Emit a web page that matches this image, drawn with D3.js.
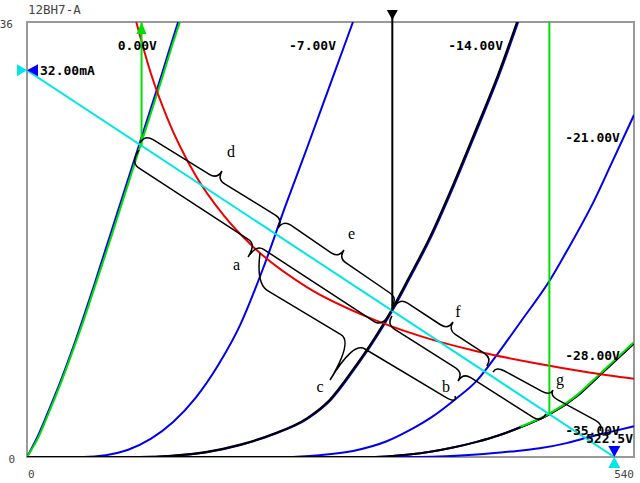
<!DOCTYPE html>
<html>
<head>
<meta charset="utf-8">
<script src="https://cdn.jsdelivr.net/npm/d3@7"></script>
<style>
  body { margin: 0; background: #fff; }
</style>
</head>
<body>
<div id="graphe"></div>
<script>
// Tube et axes
const titre = "12BH7-A";
const xDomaine = [0, 540];
const yDomaine = [0, 36];
const xTicks = ["0", "540"];
const yTicks = ["36", "0"];

// Courbes de plaque (V plaque, mA)
const v0 = [0, 10, 20, 30, 40, 50, 60, 70, 80, 90, 100, 110, 120, 130, 134.5];
const i0 = [0, 1.8, 4.0, 6.3, 8.8, 11.5, 14.3, 17.2, 20.1, 23.0, 25.9, 28.8, 31.7, 34.7, 36];
const v7 = [0, 50, 70, 90, 110, 130, 150, 170, 190, 210, 230, 250, 270, 290];
const i7 = [0, 0, 0.15, 0.6, 1.5, 2.9, 4.9, 7.6, 11.0, 15.6, 20.8, 25.8, 30.9, 36];
const v14 = [0, 100, 130, 160, 190, 220, 250, 270, 290, 310, 325, 340, 360, 380, 400, 420, 437];
const i14 = [0, 0, 0.1, 0.4, 1.0, 1.9, 3.2, 4.7, 7.1, 9.8, 12.1, 14.7, 18.3, 22.5, 27.0, 31.6, 36];
const v21 = [0, 230, 260, 290, 320, 340, 360, 380, 400, 420, 440, 465, 480, 505, 520, 540];
const i21 = [0, 0, 0.15, 0.5, 1.3, 2.2, 3.3, 4.7, 6.3, 8.7, 11.3, 14.6, 17.0, 21.3, 24.3, 28.3];
const v28 = [0, 300, 320, 340, 360, 380, 400, 420, 440, 465, 490, 512, 540];
const i28 = [0, 0, 0.05, 0.2, 0.45, 0.8, 1.25, 1.8, 2.5, 3.54, 5.1, 7.0, 9.4];
const v35 = [0, 350, 400, 430, 456, 480, 500, 520, 540];
const i35 = [0, 0, 0.2, 0.45, 0.72, 1.15, 1.65, 2.1, 2.55];

// Courbes en surbrillance (vert = 0V, noir = -14V, vert = -28V)
const vVert0 = [0, 10, 20, 30, 40, 50, 60, 70, 80, 90, 100, 110, 120, 130, 136];
const iVert0 = [0, 1.6, 3.8, 6.1, 8.6, 11.2, 14.0, 16.8, 19.7, 22.6, 25.5, 28.4, 31.3, 34.3, 36];
const vNoir14 = [0, 99, 129, 159, 189, 219, 249, 269, 289, 309, 324, 339, 359, 379, 399, 419, 436];
const iNoir14 = [0, 0, 0.1, 0.4, 1.0, 1.9, 3.2, 4.7, 7.1, 9.8, 12.1, 14.7, 18.3, 22.5, 27.0, 31.6, 36];
const vVert28 = [439, 464, 489, 511, 540];
const iVert28 = [2.5, 3.54, 5.1, 7.0, 9.5];

// Etiquettes des grilles et leur position (fin du texte, ligne de base)
const grilles = ["0.00V", "-7.00V", "-14.00V", "-21.00V", "-28.00V", "-35.00V"];
const grilleV = [115.6, 274.9, 423.5, 527.5, 527.5, 527.5];
const grilleI = [33.7, 33.7, 33.7, 26.1, 8.0, 1.8];

// Dissipation max 3.5W
const dissV = [97.2, 110, 125, 150, 175, 200, 250, 300, 350, 400, 450, 500, 540];
const dissI = [36.0, 31.8, 28.0, 23.3, 20.0, 17.5, 14.0, 11.7, 10.0, 8.75, 7.8, 7.0, 6.48];

// Droite de charge
const chargeV = [0, 522.5];
const chargeI = [32, 0];
const chargeTextes = ["32.00mA", "522.5V"];

// Point de repos (noir) et excursions (vert)
const marqueV = [101.9, 325, 464.7];
const marqueI = [25.76, 12.09, 3.54];

// Accolades : debut, fin, pointe, texte (V, mA) ; corps donne seulement pour c
const accNoms = ["d", "e", "f", "g", "a", "b", "c"];
const accDebut = [[100.5, 26.0], [223.3, 18.95], [327.4, 12.5], [414.6, 7.03], [99.6, 25.4], [324.7, 11.67], [207.3, 16.88]];
const accFin = [[223.3, 18.95], [324.7, 12.5], [409.2, 7.53], [509.7, 2.23], [322.9, 11.83], [461.7, 3.56], [380.8, 5.05]];
const accPointe = [[173.5, 23.67], [282.0, 17.13], [379.0, 11.17], [467.9, 5.54], [196.6, 16.55], [383.4, 6.29], [269.6, 6.37]];
const accTexte = [[181.5, 24.8], [288.7, 18.02], [383.4, 11.61], [474.1, 6.0], [186.4, 15.48], [372.8, 5.4], [260.7, 5.4]];
const accCorps = [null, null, null, null, null, null, [[214.4, 13.74], [371.9, 4.97]]];

const svg = d3.select("#graphe")
    .append("svg")
    .attr("width", 640)
    .attr("height", 483);

const x = d3.scaleLinear().domain(xDomaine).range([27, 634]);
const y = d3.scaleLinear().domain(yDomaine).range([457, 22]);

svg.append("defs").append("clipPath").attr("id", "zone")
    .append("rect").attr("x", 27).attr("y", 22).attr("width", 607).attr("height", 435);

const mono = "'DejaVu Sans Mono', monospace";

// Cadre
svg.append("rect")
    .attr("x", x(0)).attr("y", y(36)).attr("width", x(540) - x(0)).attr("height", y(0) - y(36))
    .attr("fill", "none").attr("stroke", "#999").attr("stroke-width", 2);

// Titre et graduations
svg.append("text").attr("x", 28).attr("y", 14).text(titre)
    .attr("font-family", mono).attr("font-size", 12.5).attr("fill", "#444");
svg.append("text").attr("x", 13).attr("y", y(36) + 6).text(yTicks[0])
    .attr("text-anchor", "end").attr("font-family", mono).attr("font-size", 11).attr("fill", "#444");
svg.append("text").attr("x", 15).attr("y", y(0) + 6).text(yTicks[1])
    .attr("text-anchor", "end").attr("font-family", mono).attr("font-size", 11).attr("fill", "#444");
svg.append("text").attr("x", x(0) + 1).attr("y", 478).text(xTicks[0])
    .attr("font-family", mono).attr("font-size", 11).attr("fill", "#444");
svg.append("text").attr("x", x(540)).attr("y", 478).text(xTicks[1])
    .attr("text-anchor", "end").attr("font-family", mono).attr("font-size", 11).attr("fill", "#444");

const plot = svg.append("g").attr("clip-path", "url(#zone)");

const ligne = d3.line()
    .x(d => x(d[0]))
    .y(d => y(d[1]))
    .curve(d3.curveMonotoneX);

function dessinerCourbe(vs, is, couleur, largeur) {
    plot.append("path")
        .datum(vs.map((v, k) => [v, is[k]]))
        .attr("d", ligne)
        .attr("fill", "none")
        .attr("stroke", couleur)
        .attr("stroke-width", largeur)
        .attr("stroke-linejoin", "round");
}

const bleu = "#0000ee";
const vert = "#00e000";
const rouge = "#ee0000";
const cyan = "#00e6e6";

// Courbes bleues
dessinerCourbe(v0, i0, bleu, 2);
dessinerCourbe(v7, i7, bleu, 2);
dessinerCourbe(v14, i14, bleu, 2);
dessinerCourbe(v21, i21, bleu, 2);
dessinerCourbe(v28, i28, bleu, 2);
dessinerCourbe(v35, i35, bleu, 2);

// Surbrillance
dessinerCourbe(v28, i28, "black", 2);
dessinerCourbe(vVert28, iVert28, vert, 2);
dessinerCourbe(vVert0, iVert0, vert, 2);
dessinerCourbe(vNoir14, iNoir14, "black", 2.2);

// Dissipation
dessinerCourbe(dissV, dissI, rouge, 2);

// Droite de charge
plot.append("line")
    .attr("x1", x(chargeV[0])).attr("y1", y(chargeI[0]))
    .attr("x2", x(chargeV[1])).attr("y2", y(chargeI[1]))
    .attr("stroke", cyan).attr("stroke-width", 2);

// Verticales
svg.append("line")
    .attr("x1", x(marqueV[0])).attr("y1", y(marqueI[0])).attr("x2", x(marqueV[0])).attr("y2", y(36))
    .attr("stroke", vert).attr("stroke-width", 2);
svg.append("line")
    .attr("x1", x(marqueV[2])).attr("y1", y(marqueI[2])).attr("x2", x(marqueV[2])).attr("y2", y(36))
    .attr("stroke", vert).attr("stroke-width", 2);
svg.append("line")
    .attr("x1", x(marqueV[1])).attr("y1", y(marqueI[1])).attr("x2", x(marqueV[1])).attr("y2", 11)
    .attr("stroke", "black").attr("stroke-width", 2);

// Triangles
function triangle(pts, couleur) {
    svg.append("path").attr("d", "M" + pts.map(p => p.join(",")).join("L") + "Z").attr("fill", couleur);
}
const xr = x(marqueV[1]), xg = x(marqueV[0]);
triangle([[xr - 5.5, 10], [xr + 5.5, 10], [xr, 20]], "black");
triangle([[xg - 5, 34], [xg + 5, 34], [xg, 22]], vert);
const yc = y(chargeI[0]), xc = x(chargeV[1]);
triangle([[x(0) - 10, yc - 6], [x(0) - 10, yc + 6], [x(0), yc]], cyan);
triangle([[x(0) + 11, yc - 6], [x(0) + 11, yc + 6], [x(0), yc]], "#0000ff");
triangle([[xc - 6, y(0) - 11], [xc + 6, y(0) - 11], [xc, y(0)]], "#0000ff");
triangle([[xc - 6, y(0) + 11], [xc + 6, y(0) + 11], [xc, y(0)]], cyan);

// Accolades
const px = p => [x(p[0]), y(p[1])];

function accolade(S, E, T, corps, r) {
    let B1, B2;
    if (corps) {
        B1 = px(corps[0]);
        B2 = px(corps[1]);
    } else {
        // corps parallele a la corde, a mi-profondeur
        const L = Math.hypot(E[0] - S[0], E[1] - S[1]);
        const ux = (E[0] - S[0]) / L, uy = (E[1] - S[1]) / L;
        const m = (T[0] - S[0]) * ux + (T[1] - S[1]) * uy;
        const Dx = T[0] - (S[0] + m * ux), Dy = T[1] - (S[1] + m * uy);
        B1 = [S[0] + r * ux + Dx / 2, S[1] + r * uy + Dy / 2];
        B2 = [E[0] - r * ux + Dx / 2, E[1] - r * uy + Dy / 2];
    }
    const L = Math.hypot(B2[0] - B1[0], B2[1] - B1[1]);
    const ux = (B2[0] - B1[0]) / L, uy = (B2[1] - B1[1]) / L;
    const s = (T[0] - B1[0]) * ux + (T[1] - B1[1]) * uy;
    const Tm = [B1[0] + s * ux, B1[1] + s * uy];
    const p = d3.path();
    p.moveTo(S[0], S[1]);
    p.quadraticCurveTo(B1[0] - r * ux, B1[1] - r * uy, B1[0], B1[1]);
    p.lineTo(Tm[0] - r * ux, Tm[1] - r * uy);
    p.quadraticCurveTo(Tm[0], Tm[1], T[0], T[1]);
    p.quadraticCurveTo(Tm[0], Tm[1], Tm[0] + r * ux, Tm[1] + r * uy);
    p.lineTo(B2[0], B2[1]);
    p.quadraticCurveTo(B2[0] + r * ux, B2[1] + r * uy, E[0], E[1]);
    return p.toString();
}

accNoms.forEach((nom, k) => {
    const d = accolade(px(accDebut[k]), px(accFin[k]), px(accPointe[k]), accCorps[k], accCorps[k] ? 14 : 9);
    svg.append("path").attr("d", d)
        .attr("fill", "none").attr("stroke", "black").attr("stroke-width", 1.5);
    svg.append("text")
        .attr("x", x(accTexte[k][0]))
        .attr("y", y(accTexte[k][1]))
        .attr("text-anchor", "middle")
        .attr("font-family", "'Liberation Serif', serif")
        .attr("font-size", 16)
        .text(nom);
});

// Etiquettes
grilles.forEach((t, k) => {
    svg.append("text")
        .attr("x", x(grilleV[k])).attr("y", y(grilleI[k]))
        .attr("text-anchor", "end")
        .attr("font-family", mono).attr("font-weight", "bold").attr("font-size", 13)
        .text(t);
});
svg.append("text").attr("x", x(0) + 13).attr("y", yc + 5)
    .attr("font-family", mono).attr("font-weight", "bold").attr("font-size", 13)
    .text(chargeTextes[0]);
svg.append("text").attr("x", x(540) - 1).attr("y", y(0) - 14)
    .attr("text-anchor", "end")
    .attr("font-family", mono).attr("font-weight", "bold").attr("font-size", 13)
    .text(chargeTextes[1]);
</script>
</body>
</html>
